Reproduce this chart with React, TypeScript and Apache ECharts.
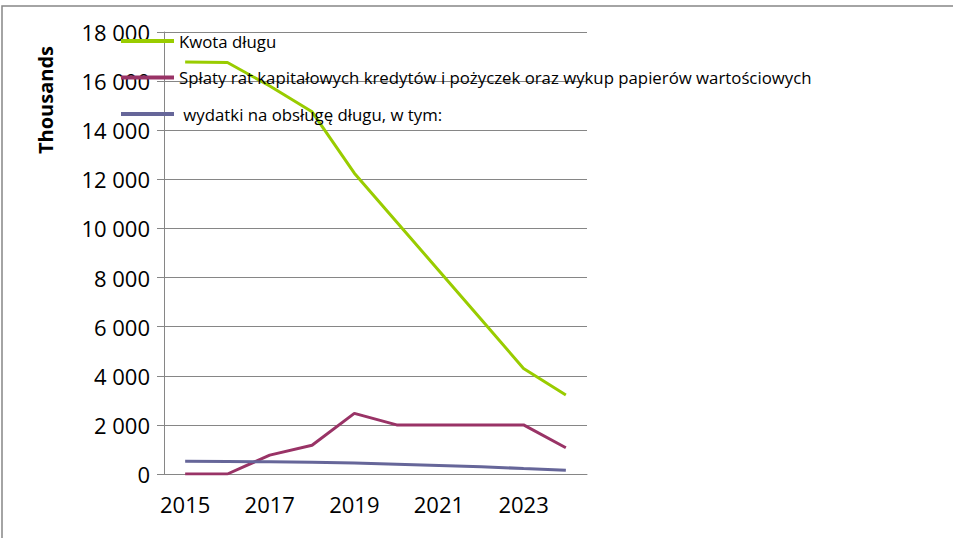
import React, { useEffect, useRef } from "react";
import * as echarts from "echarts";

const years = ["2015", "2016", "2017", "2018", "2019", "2020", "2021", "2022", "2023", "2024"];
const kwotaDlugu = [16780, 16760, 15800, 14750, 12250, 10260, 8280, 6290, 4300, 3220];
const splaty = [0, 0, 770, 1170, 2470, 2000, 2000, 2000, 2000, 1070];
const wydatki = [520, 510, 500, 480, 450, 400, 350, 300, 220, 150];
const seriesNames = [
  "Kwota długu",
  "Spłaty rat kapitałowych kredytów i pożyczek oraz wykup papierów wartościowych",
  " wydatki na obsługę długu, w tym:",
];
const yMax = 18000;
const yStep = 2000;

const FONT = "'Open Sans', 'Noto Sans', sans-serif";

export default function App() {
  const ref = useRef<HTMLDivElement>(null);
  useEffect(() => {
    if (!ref.current) return;
    const chart = echarts.init(ref.current, null, { renderer: "svg" });
    const mk = (name: string, data: number[], color: string) => ({
      name,
      type: "line",
      data,
      symbol: "none",
      lineStyle: { color, width: 3 },
      itemStyle: { color },
      z: 3,
    });
    chart.setOption({
      animation: false,
      backgroundColor: "#ffffff",
      grid: { left: 164, right: 366, top: 32, bottom: 64 },
      legend: {
        orient: "vertical",
        left: 116,
        top: 26,
        itemWidth: 53,
        itemHeight: 4,
        itemGap: 16.5,
        icon: "rect",
        textStyle: { fontFamily: FONT, fontSize: 16.8, color: "#000", lineHeight: 20 },
        data: seriesNames,
      },
      xAxis: {
        type: "category",
        data: years,
        boundaryGap: true,
        axisLine: { lineStyle: { color: "#868686", width: 1 } },
        axisTick: { interval: 0, length: 7, lineStyle: { color: "#868686" } },
        axisLabel: {
          interval: 1,
          margin: 19,
          fontFamily: FONT,
          fontSize: 22,
          color: "#000",
        },
        splitLine: { show: false },
      },
      yAxis: {
        type: "value",
        min: 0,
        max: yMax,
        interval: yStep,
        axisLine: { show: true, lineStyle: { color: "#868686", width: 1 } },
        axisTick: { show: true, length: 7, lineStyle: { color: "#868686" } },
        axisLabel: {
          margin: 14,
          fontFamily: FONT,
          fontSize: 22,
          color: "#000",
          formatter: (v: number) => {
            const s = String(v);
            return s.length > 3 ? s.slice(0, s.length - 3) + " " + s.slice(-3) : s;
          },
        },
        splitLine: { show: true, lineStyle: { color: "#868686", width: 1 } },
      },
      graphic: [
        {
          type: "rect",
          shape: { x: 2, y: 6, width: 1000, height: 600 },
          style: { fill: "none", stroke: "#868686", lineWidth: 1.5 },
          silent: true,
        },
        {
          type: "text",
          x: 45,
          y: 100,
          rotation: Math.PI / 2,
          style: {
            text: "Thousands",
            fontFamily: FONT,
            fontSize: 20,
            fontWeight: "bold",
            fill: "#000",
            align: "center",
            verticalAlign: "middle",
          },
        },
      ],
      series: [
        mk(seriesNames[0], kwotaDlugu, "#99CC00"),
        mk(seriesNames[1], splaty, "#993366"),
        mk(seriesNames[2], wydatki, "#666699"),
      ],
    });
    return () => chart.dispose();
  }, []);
  return (
    <div
      ref={ref}
      style={{ position: "absolute", left: 0, top: 0, width: 953, height: 538 }}
    />
  );
}
